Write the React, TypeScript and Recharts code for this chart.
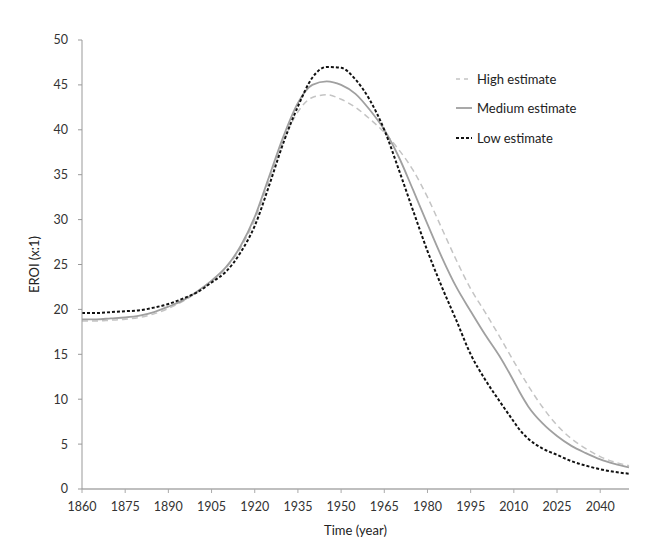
import React from 'react';
import { LineChart, Line, XAxis, YAxis } from 'recharts';

const years = [1860, 1865, 1870, 1875, 1880, 1885, 1890, 1895, 1900, 1905, 1910, 1915, 1920, 1925, 1930, 1935, 1940, 1945, 1950, 1955, 1960, 1965, 1970, 1975, 1980, 1985, 1990, 1995, 2000, 2005, 2010, 2012, 2015, 2020, 2025, 2030, 2035, 2040, 2045, 2050];

const highEstimate = [18.7, 18.7, 18.8, 18.9, 19.1, 19.5, 20.1, 20.9, 21.9, 23.1, 24.6, 26.8, 30.0, 34.4, 38.8, 42.0, 43.6, 43.9, 43.4, 42.5, 41.2, 39.7, 37.8, 35.5, 32.5, 29.0, 25.5, 22.3, 19.7, 17.0, 14.2, 13.1, 11.5, 9.1, 7.1, 5.6, 4.5, 3.6, 3.0, 2.6];

const mediumEstimate = [18.9, 18.9, 19.0, 19.1, 19.3, 19.7, 20.3, 21.0, 22.0, 23.2, 24.7, 27.0, 30.3, 34.8, 39.3, 43.0, 45.0, 45.4, 45.0, 44.0, 42.2, 40.0, 37.0, 33.3, 29.5, 25.8, 22.5, 19.8, 17.2, 14.8, 12.0, 10.8, 9.2, 7.3, 5.9, 4.8, 4.0, 3.3, 2.8, 2.4];

const lowEstimate = [19.6, 19.6, 19.7, 19.8, 19.9, 20.2, 20.6, 21.2, 21.9, 23.0, 24.2, 26.3, 29.3, 33.8, 38.6, 42.6, 45.8, 47.0, 46.9, 45.6, 43.3, 40.0, 35.6, 31.0, 26.5, 22.5, 18.8, 15.0, 12.2, 9.8, 7.5, 6.6, 5.6, 4.5, 3.8, 3.1, 2.6, 2.2, 1.9, 1.7];

const xTicks = [1860, 1875, 1890, 1905, 1920, 1935, 1950, 1965, 1980, 1995, 2010, 2025, 2040];
const yTicks = [0, 5, 10, 15, 20, 25, 30, 35, 40, 45, 50];

const seriesNames = ['High estimate', 'Medium estimate', 'Low estimate'];

const data = years.map((y, i) => ({
  year: y,
  high: highEstimate[i],
  medium: mediumEstimate[i],
  low: lowEstimate[i],
}));

const FONT = 'Lato, "Open Sans", sans-serif';

const legendStyles = [
  { stroke: '#c4c4c4', width: 1.5, dash: '4 4' },
  { stroke: '#a0a0a0', width: 1.8, dash: undefined },
  { stroke: '#111111', width: 2, dash: '3 2' },
];

const LegendBox = () => (
  <div style={{ position: 'absolute', left: 455, top: 64, fontFamily: FONT, fontSize: 13, color: '#222' }}>
    {seriesNames.map((name, i) => (
      <div key={name} style={{ display: 'flex', alignItems: 'center', height: 29.5 }}>
        <svg width={18} height={10} style={{ marginRight: 4 }}>
          <line x1={1} y1={5} x2={17} y2={5} stroke={legendStyles[i].stroke} strokeWidth={legendStyles[i].width} strokeDasharray={legendStyles[i].dash} />
        </svg>
        <span>{name}</span>
      </div>
    ))}
  </div>
);

export default function App() {
  return (
    <div style={{ position: 'absolute', left: 0, top: 0, width: 646, height: 545, background: '#fff' }}>
      <LineChart width={646} height={545} data={data} margin={{ top: 40, right: 17, bottom: 0, left: 0 }}>
        <XAxis
          dataKey="year"
          type="number"
          domain={[1860, 2050]}
          ticks={xTicks}
          interval={0}
          tickSize={4}
          tickMargin={9}
          height={56}
          axisLine={{ stroke: '#aaa', strokeWidth: 1.5 }}
          tickLine={{ stroke: '#aaa' }}
          tick={{ fill: '#333', fontSize: 12.5, fontFamily: FONT }}
          label={{
            content: (props: any) => {
              const vb = props.viewBox || {};
              return (
                <text x={vb.x + vb.width / 2} y={535} textAnchor="middle" fill="#222" fontSize={13} fontFamily={FONT}>
                  Time (year)
                </text>
              );
            },
          }}
        />
        <YAxis
          type="number"
          domain={[0, 50]}
          ticks={yTicks}
          interval={0}
          width={82}
          tickSize={4}
          tickMargin={10}
          axisLine={{ stroke: '#999' }}
          tickLine={{ stroke: '#999' }}
          tick={{ fill: '#333', fontSize: 12.5, fontFamily: FONT }}
          label={{
            content: (props: any) => {
              const vb = props.viewBox || {};
              const cx = 36;
              const cy = vb.y + vb.height / 2;
              return (
                <text x={cx} y={cy} transform={`rotate(-90 ${cx} ${cy})`} textAnchor="middle" dominantBaseline="middle" fill="#222" fontSize={13} fontFamily={FONT}>
                  EROI (x:1)
                </text>
              );
            },
          }}
        />
        <Line dataKey="high" name={seriesNames[0]} type="monotone" stroke="#c4c4c4" strokeWidth={1.5} strokeDasharray="6 4" dot={false} isAnimationActive={false} />
        <Line dataKey="medium" name={seriesNames[1]} type="monotone" stroke="#a0a0a0" strokeWidth={1.8} dot={false} isAnimationActive={false} />
        <Line dataKey="low" name={seriesNames[2]} type="monotone" stroke="#111" strokeWidth={2} strokeDasharray="3 2" dot={false} isAnimationActive={false} />
      </LineChart>
      <LegendBox />
    </div>
  );
}
